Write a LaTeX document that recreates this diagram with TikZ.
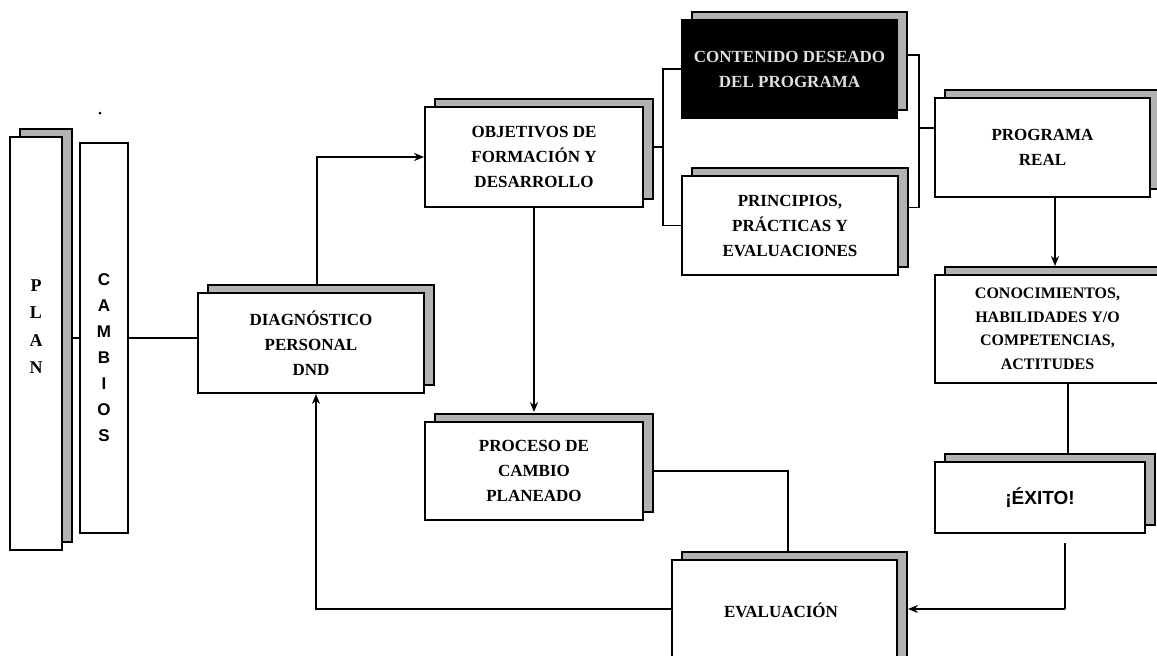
\documentclass[tikz,border=0pt]{standalone}
\usepackage{fontspec}
\setmainfont{Liberation Serif}
\newfontfamily\boxsans{Liberation Sans}
\usetikzlibrary{shadows,arrows.meta,backgrounds}
\begin{document}
\begin{tikzpicture}[x=1pt,y=-1pt,
  box/.style={draw=black, line width=1.8pt, fill=white, inner sep=0pt, align=center,
    font=\bfseries\fontsize{17}{25}\selectfont},
  shadowed/.style={drop shadow={shadow xshift=10pt, shadow yshift=8pt,
    fill=gray!60, draw=black, line width=1.2pt, opacity=1}},
  link/.style={draw=black, line width=1.6pt},
  arr/.style={link, -{Stealth[length=10pt,width=8pt]}}]
\path[use as bounding box, clip] (0,0) rectangle (1157,656);

% left column
\node[box, shadowed, minimum width=52pt, minimum height=413pt] (plan) at (36,343.5) {};
\node[font=\bfseries\fontsize{18}{27.5}\selectfont, align=center] (plantext) at (36,326.5) {P\\L\\A\\N};
\node[box, minimum width=48pt, minimum height=390pt] (cambios) at (104,338) {};
\node[font=\boxsans\bfseries\fontsize{17}{26}\selectfont, align=center] (cambiostext) at (104,358) {C\\A\\M\\B\\I\\O\\S};
\fill (100,113) circle (1.5pt);

% main chain
\node[box, shadowed, minimum width=226pt, minimum height=100pt] (diag) at (311,343) {DIAGNÓSTICO\\PERSONAL\\DND};
\node[box, shadowed, minimum width=218pt, minimum height=100pt] (obj) at (534,157) {OBJETIVOS DE\\FORMACIÓN Y\\DESARROLLO};
\node[box, shadowed, minimum width=218pt, minimum height=98pt] (proc) at (534,471) {PROCESO DE\\CAMBIO\\PLANEADO};
\node[box, shadowed, fill=black, text=gray!25, minimum width=215pt, minimum height=98pt] (dark) at (789.5,69) {CONTENIDO DESEADO\\DEL PROGRAMA};
\node[box, shadowed, minimum width=216pt, minimum height=99pt] (princ) at (790,225.5) {PRINCIPIOS,\\PRÁCTICAS Y\\EVALUACIONES};
\node[box, shadowed, minimum width=215pt, minimum height=99pt] (prog) at (1042.5,147.5) {PROGRAMA\\REAL};
\node[box, shadowed, minimum width=225pt, minimum height=108pt, font=\bfseries\fontsize{16}{23.5}\selectfont] (conoc) at (1047.5,329) {CONOCIMIENTOS,\\HABILIDADES Y/O\\COMPETENCIAS,\\ACTITUDES};
\node[box, shadowed, minimum width=210pt, minimum height=71pt, font=\boxsans\bfseries\fontsize{19}{22}\selectfont] (exito) at (1040,497.5) {¡ÉXITO!};
\node[box, shadowed, minimum width=225pt, minimum height=120pt] (eval) at (784.5,620) {};
\node[font=\bfseries\fontsize{17}{25}\selectfont] (evaltext) at (781,610) {EVALUACIÓN};

% connectors, kept behind the boxes and their shadows
\begin{pgfonlayer}{background}
  \draw[link] (cambios.west) -- (cambios.west -| plan.east);
  \draw[link] (cambios.east) -- (cambios.east -| diag.west);
  \draw[arr] ([xshift=6pt]diag.north) |- (obj.west);
  \draw[arr] (obj.south) -- ([yshift=9pt]proc.north);
  % left bracket
  \coordinate (bl) at (663,147);
  \draw[link] (bl) -- (bl -| obj.east);
  \draw[link] (dark.west) -| (bl) |- (princ.west);
  % right bracket
  \coordinate (br) at (919,128);
  \draw[link] ([yshift=14pt]dark.east) -| (br) |- ([yshift=18pt]princ.east);
  \draw[link] (br) -- (br -| prog.west);
  % right column
  \coordinate (progout) at (1055,197);
  \coordinate (conocin) at (1055,266);
  \draw[arr] (progout) -- (conocin);
  \coordinate (conocout) at (1068,383);
  \coordinate (exitoin) at (1068,454);
  \draw[link] (conocout) -- (exitoin);
  \coordinate (exitoout) at (1065,543);
  \coordinate (ex) at (1065,609);
  \coordinate (evalin) at (908,609);
  \draw[link] (exitoout) -- (ex);
  \draw[arr] (ex) -- (evalin);
  % process to evaluation
  \coordinate (pe) at (788,471);
  \coordinate (evaltop) at (788,552);
  \draw[link] (proc.east) -- (pe) -- (evaltop);
  % evaluation back to diagnosis
  \coordinate (evout) at (672,609);
  \coordinate (diagin) at (316,394);
  \draw[arr] (evout) -| (diagin);
\end{pgfonlayer}
\end{tikzpicture}
\end{document}
